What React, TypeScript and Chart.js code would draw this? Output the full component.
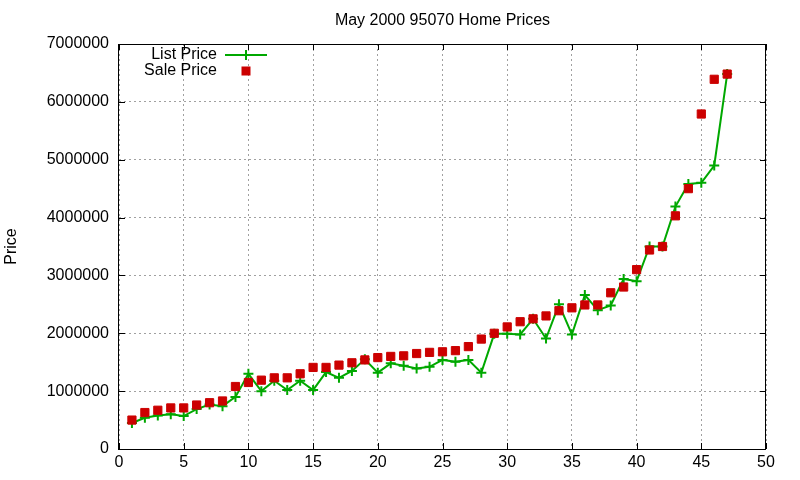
import { useEffect, useRef } from 'react'
import { Chart, registerables } from 'chart.js'

Chart.register(...registerables)

// home number (x axis)
const homes = [
  1, 2, 3, 4, 5, 6, 7, 8, 9, 10, 11, 12, 13, 14, 15, 16, 17, 18, 19, 20, 21, 22, 23, 24,
  25, 26, 27, 28, 29, 30, 31, 32, 33, 34, 35, 36, 37, 38, 39, 40, 41, 42, 43, 44, 45, 46, 47,
]

// asking price
const listPrice = [
  450000, 540000, 580000, 600000, 570000, 690000, 770000, 740000, 900000, 1300000,
  1000000, 1180000, 1020000, 1180000, 1020000, 1330000, 1230000, 1350000, 1550000, 1320000,
  1480000, 1440000, 1390000, 1420000, 1540000, 1510000, 1540000, 1320000, 1990000, 1990000,
  1980000, 2250000, 1910000, 2500000, 1980000, 2660000, 2400000, 2480000, 2940000, 2900000,
  3500000, 3500000, 4190000, 4580000, 4600000, 4900000, 6480000,
]

// final sale price
const salePrice = [
  500000, 630000, 670000, 710000, 710000, 760000, 800000, 830000, 1080000, 1150000,
  1190000, 1230000, 1230000, 1300000, 1410000, 1410000, 1450000, 1490000, 1540000, 1580000,
  1600000, 1610000, 1650000, 1670000, 1680000, 1700000, 1770000, 1900000, 2000000, 2110000,
  2200000, 2250000, 2300000, 2390000, 2440000, 2490000, 2490000, 2700000, 2800000, 3100000,
  3440000, 3500000, 4030000, 4500000, 5790000, 6390000, 6480000,
]

const seriesNames = ['List Price', 'Sale Price']
const GREEN = '#00a800'
const RED = '#cc0000'
const FONT = '"Liberation Sans", Arial, sans-serif'
const FONT_SIZE = 16

// gnuplot-style frame with inward ticks, plus the key in the top-left corner
const framePlugin = {
  id: 'frame',
  afterDraw(chart: any) {
    const { ctx, chartArea: a, scales } = chart
    ctx.save()
    ctx.strokeStyle = '#000'
    ctx.lineWidth = 1
    ctx.strokeRect(a.left - 0.5, a.top + 0.5, a.right - a.left, a.bottom - a.top)
    ctx.beginPath()
    scales.x.ticks.forEach((t: any) => {
      const px = Math.round(scales.x.getPixelForValue(t.value)) + 0.5
      ctx.moveTo(px, a.bottom)
      ctx.lineTo(px, a.bottom - 6)
      ctx.moveTo(px, a.top)
      ctx.lineTo(px, a.top + 6)
    })
    scales.y.ticks.forEach((t: any) => {
      const py = Math.round(scales.y.getPixelForValue(t.value)) + 0.5
      ctx.moveTo(a.left, py)
      ctx.lineTo(a.left + 6, py)
      ctx.moveTo(a.right, py)
      ctx.lineTo(a.right - 6, py)
    })
    ctx.stroke()

    // key
    const textX = a.left + 98
    const sampleX = a.left + 127
    const y1 = a.top + 11
    const y2 = a.top + 27
    ctx.font = `${FONT_SIZE}px ${FONT}`
    ctx.fillStyle = '#000'
    ctx.textAlign = 'right'
    ctx.textBaseline = 'middle'
    ctx.fillText(seriesNames[0], textX, y1)
    ctx.fillText(seriesNames[1], textX, y2)

    ctx.strokeStyle = GREEN
    ctx.lineWidth = 2
    ctx.beginPath()
    ctx.moveTo(sampleX - 21, y1)
    ctx.lineTo(sampleX + 21, y1)
    ctx.moveTo(sampleX, y1 - 5)
    ctx.lineTo(sampleX, y1 + 5)
    ctx.stroke()

    ctx.fillStyle = RED
    ctx.fillRect(sampleX - 4.5, y2 - 4.5, 9, 9)
    ctx.restore()
  },
}

export default function App() {
  const canvasRef = useRef<HTMLCanvasElement>(null)

  useEffect(() => {
    if (!canvasRef.current) return
    Chart.defaults.font.family = FONT
    Chart.defaults.color = '#000'

    const chart = new Chart(canvasRef.current, {
      type: 'line',
      data: {
        datasets: [
          {
            label: seriesNames[1],
            data: homes.map((h, i) => ({ x: h, y: salePrice[i] })),
            showLine: false,
            pointStyle: 'rect',
            pointRadius: 5.8,
            pointBackgroundColor: RED,
            pointBorderColor: RED,
            pointBorderWidth: 1,
            backgroundColor: RED,
            borderColor: RED,
          },
          {
            label: seriesNames[0],
            data: homes.map((h, i) => ({ x: h, y: listPrice[i] })),
            borderColor: GREEN,
            borderWidth: 2,
            tension: 0,
            fill: false,
            pointStyle: 'cross',
            pointRadius: 5,
            pointBorderWidth: 2,
            pointBorderColor: GREEN,
          },
        ],
      },
      options: {
        animation: false,
        responsive: true,
        maintainAspectRatio: false,
        layout: { padding: { top: 0, right: 34, bottom: 0, left: 0 } },
        plugins: {
          legend: { display: false },
          tooltip: { enabled: false },
          title: {
            display: true,
            text: 'May 2000 95070 Home Prices',
            fullSize: false,
            color: '#000',
            font: { size: FONT_SIZE, weight: 'normal' },
            padding: { top: 11, bottom: 13.8 },
          },
        },
        scales: {
          x: {
            type: 'linear',
            min: 0,
            max: 50,
            afterFit: (s: any) => {
              s.height = 31
            },
            ticks: { stepSize: 5, padding: 4, color: '#000', font: { size: FONT_SIZE } },
            grid: { color: '#a0a0a0', lineWidth: 1, drawTicks: false },
            border: { display: false, dash: [2, 3] },
          },
          y: {
            min: 0,
            max: 7000000,
            afterFit: (s: any) => {
              s.width = 119
            },
            ticks: {
              stepSize: 1000000,
              padding: 10,
              color: '#000',
              font: { size: FONT_SIZE },
              callback: (v: any) => String(v),
            },
            grid: { color: '#a0a0a0', lineWidth: 1, drawTicks: false },
            border: { display: false, dash: [2, 3] },
            title: {
              display: true,
              text: 'Price',
              color: '#000',
              font: { size: FONT_SIZE },
              padding: { top: 2, bottom: 0 },
            },
          },
        },
      },
      plugins: [framePlugin],
    } as any)

    return () => {
      chart.destroy()
    }
  }, [])

  return (
    <div style={{ position: 'fixed', left: 0, top: 0, width: 800, height: 480, background: '#fff' }}>
      <canvas ref={canvasRef}></canvas>
    </div>
  )
}
